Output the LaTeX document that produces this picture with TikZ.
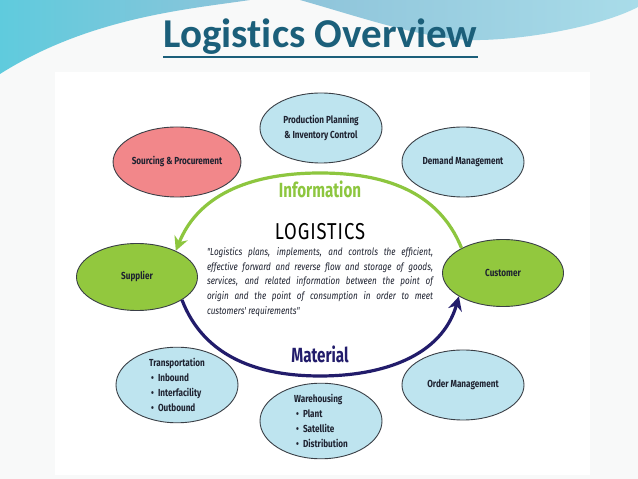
\documentclass[tikz,border=0pt]{standalone}
\usepackage{fontspec}
\setmainfont{Fira Sans}
\newfontfamily\condfont{Fira Sans}[FakeStretch=0.80]
\newfontfamily\narrowfont{Fira Sans}[FakeStretch=0.74]
\newfontfamily\titlefont{Carlito}[Ligatures={NoCommon}]
\usetikzlibrary{arrows.meta,positioning,shapes.geometric}
\definecolor{titlecol}{HTML}{1B5F7A}
\definecolor{infocol}{HTML}{8DC63F}
\definecolor{matcol}{HTML}{221C6B}
\definecolor{skyc}{HTML}{BEE4EF}
\definecolor{pinkc}{HTML}{F2878A}
\definecolor{limec}{HTML}{92C83E}
\definecolor{edgec}{HTML}{3A3F46}
\definecolor{inkc}{HTML}{1E2230}
\definecolor{swooshA}{HTML}{5FCBDD}
\definecolor{swooshB}{HTML}{8EC4DA}
\definecolor{swooshC}{HTML}{A9DCE9}
\definecolor{slidebg}{HTML}{F8F9F9}
\newcommand{\bul}{\hspace{2pt}\textbullet\hspace{4pt}}

\begin{document}
\begin{tikzpicture}[x=1pt,y=1pt,
  font=\condfont\bfseries\fontsize{10.2}{15}\selectfont,
  oval/.style={ellipse,draw=edgec,line width=0.9pt,inner sep=0pt,
               minimum width=122pt,minimum height=70pt,text=inkc,align=center},
  sbox/.style={oval,fill=skyc},
  pbox/.style={oval,fill=pinkc},
  gbox/.style={oval,fill=limec,minimum width=121pt,minimum height=67pt},
  lbox/.style={oval,fill=skyc,align=left},
  flow/.style={line width=3.2pt,-{Stealth[length=14pt,width=14pt]}},
  tag/.style={font=\narrowfont\bfseries\fontsize{20.5}{22}\selectfont},
]
% slide background
\fill[slidebg] (0,0) rectangle (638,479);
\useasboundingbox (0,0) rectangle (638,479);
\shade[left color=swooshA,right color=swooshB]
  (0,479) -- (250,479) .. controls (190,470) and (90,462) .. (0,405) -- cycle;
\shade[left color=swooshB,right color=swooshC]
  (300,479) -- (638,479) -- (638,472) .. controls (600,452) and (520,438) .. (470,439)
  .. controls (420,441) and (360,462) .. (300,479) -- cycle;
\fill[white] (55,4) rectangle (590,407);

% title
\node[font=\titlefont\bfseries\fontsize{41}{43}\selectfont,text=titlecol,
      inner sep=0pt,anchor=base] (title) at (320.5,431) {Logistics Overview};
\draw[titlecol,line width=2pt] ([yshift=-9pt]title.base west) -- ([yshift=-9pt]title.base east);

% ovals round the cycle
\node[pbox] (src) at (177,317) {Sourcing \& Procurement};
\node[sbox] (ppc) at (321,351) {Production Planning\\\& Inventory Control};
\node[sbox] (dem) at (463,317) {Demand Management};
\node[gbox] (sup) at (137,202) {Supplier};
\node[gbox] (cus) at (503,206) {Customer};
\node[lbox] (trn) at (177,94) {Transportation\\\bul Inbound\\\bul Interfacility\\\bul Outbound};
\node[lbox] (whs) at (321,58) {Warehousing\\\bul Plant\\\bul Satellite\\\bul Distribution};
\node[sbox] (ord) at (463,94) {Order Management};

% centre text
\node[font=\condfont\fontsize{23}{24}\selectfont\addfontfeature{LetterSpace=4}] (logi) at (320,247) {LOGISTICS};
\node[text width=226pt,align=justify,font=\condfont\itshape\fontsize{10.2}{14.8}\selectfont,
      text=inkc] (def) at (320,197)
  {"Logistics plans, implements, and controls the efficient,\linebreak
   effective forward and reverse flow and storage of goods,\linebreak
   services, and related information between the point of\linebreak
   origin and the point of consumption in order to meet\linebreak
   customers' requirements"};

% flows
\coordinate (infotop) at (320,306);
\coordinate (matbot) at (320,103);
\draw[flow,infocol] (cus.149) to[out=112,in=0] (infotop) to[out=180,in=68] (sup.34);
\draw[flow,matcol] (sup.333) to[out=291,in=180] (matbot) to[out=0,in=254] (cus.208);
\node[tag,text=infocol] (info) at (320,290) {Information};
\node[tag,text=matcol] (mat) at (320,125) {Material};
\end{tikzpicture}
\end{document}
